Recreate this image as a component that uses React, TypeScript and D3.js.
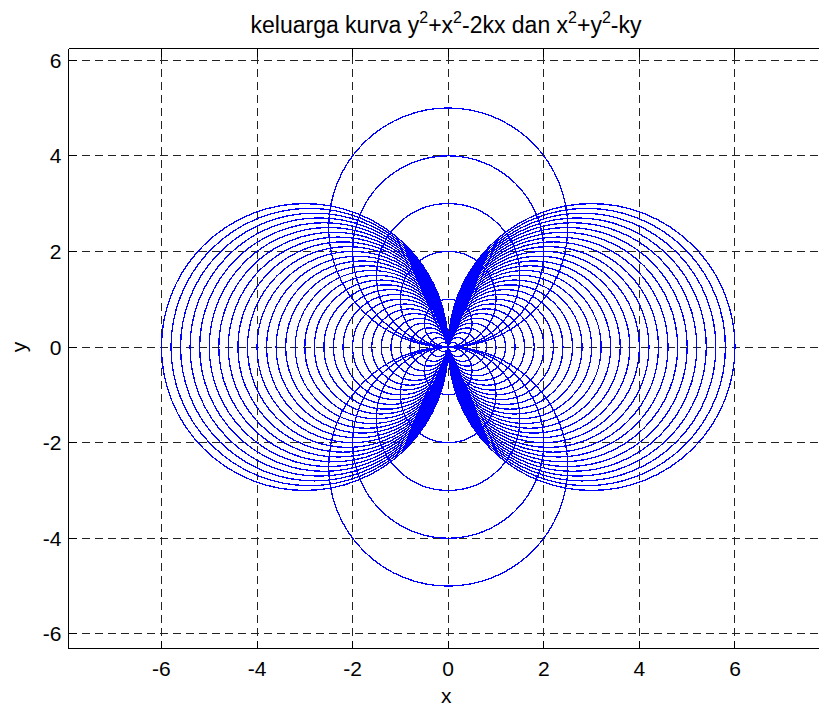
import { useEffect, useRef } from 'react'
import * as d3 from 'd3'

// family 1: y^2 + x^2 - 2kx = 0  -> circle centre (k, 0), radius |k|
const kHoriz = [
  -3.0, -2.9, -2.8, -2.7, -2.6, -2.5, -2.4, -2.3, -2.2, -2.1,
  -2.0, -1.9, -1.8, -1.7, -1.6, -1.5, -1.4, -1.3, -1.2, -1.1,
  -1.0, -0.9, -0.8, -0.7, -0.6, -0.5, -0.4, -0.3, -0.2, -0.1,
  0.1, 0.2, 0.3, 0.4, 0.5, 0.6, 0.7, 0.8, 0.9, 1.0,
  1.1, 1.2, 1.3, 1.4, 1.5, 1.6, 1.7, 1.8, 1.9, 2.0,
  2.1, 2.2, 2.3, 2.4, 2.5, 2.6, 2.7, 2.8, 2.9, 3.0,
]
// family 2: x^2 + y^2 - ky = 0  -> circle centre (0, k/2), radius |k|/2
const kVert = [-5, -4, -3, -2, -1, 1, 2, 3, 4, 5]

const xTicks = [-6, -4, -2, 0, 2, 4, 6]
const yTicks = [-6, -4, -2, 0, 2, 4, 6]
const xDomain = [-7.944, 7.944]
const yDomain = [-6.31, 6.24]

const FONT = '"Liberation Sans", Arial, Helvetica, sans-serif'

export default function App() {
  const svgRef = useRef<SVGSVGElement | null>(null)

  useEffect(() => {
    if (!svgRef.current) return
    const W = 819, H = 706
    const left = 68.5, right = 827.9, top = 48.7, bottom = 648.7

    const x = d3.scaleLinear().domain(xDomain).range([left, right])
    const y = d3.scaleLinear().domain(yDomain).range([bottom, top])

    const svg = d3.select(svgRef.current)
    svg.selectAll('*').remove()
    svg.attr('width', W).attr('height', H)

    svg.append('rect').attr('width', W).attr('height', H).attr('fill', '#fff')

    // grid
    const grid = svg.append('g').attr('stroke', '#222').attr('stroke-width', 1)
      .attr('stroke-dasharray', '8 5').attr('shape-rendering', 'crispEdges')
    xTicks.forEach(t => {
      grid.append('line').attr('x1', x(t)).attr('x2', x(t)).attr('y1', bottom).attr('y2', top)
    })
    yTicks.forEach(t => {
      grid.append('line').attr('x1', left).attr('x2', right).attr('y1', y(t)).attr('y2', y(t))
    })

    // curves
    const curves = svg.append('g').attr('fill', 'none').attr('stroke', '#0000ff')
      .attr('stroke-width', 1.3).attr('shape-rendering', 'crispEdges')
    kHoriz.forEach(k => {
      curves.append('ellipse')
        .attr('cx', x(k)).attr('cy', y(0))
        .attr('rx', x(Math.abs(k)) - x(0)).attr('ry', y(0) - y(Math.abs(k)))
    })
    kVert.forEach(k => {
      curves.append('ellipse')
        .attr('cx', x(0)).attr('cy', y(k / 2))
        .attr('rx', x(Math.abs(k) / 2) - x(0)).attr('ry', y(0) - y(Math.abs(k) / 2))
    })

    // box + inward ticks
    const axes = svg.append('g').attr('stroke', '#000').attr('stroke-width', 1)
      .attr('shape-rendering', 'crispEdges')
    axes.append('line').attr('x1', left).attr('x2', right).attr('y1', top).attr('y2', top)
    axes.append('line').attr('x1', left).attr('x2', right).attr('y1', bottom).attr('y2', bottom)
    axes.append('line').attr('x1', left).attr('x2', left).attr('y1', top).attr('y2', bottom)
    axes.append('line').attr('x1', right).attr('x2', right).attr('y1', top).attr('y2', bottom)
    const tl = 8
    xTicks.forEach(t => {
      axes.append('line').attr('x1', x(t)).attr('x2', x(t)).attr('y1', bottom).attr('y2', bottom - tl)
      axes.append('line').attr('x1', x(t)).attr('x2', x(t)).attr('y1', top).attr('y2', top + tl)
    })
    yTicks.forEach(t => {
      axes.append('line').attr('x1', left).attr('x2', left + tl).attr('y1', y(t)).attr('y2', y(t))
      axes.append('line').attr('x1', right).attr('x2', right - tl).attr('y1', y(t)).attr('y2', y(t))
    })

    // tick labels
    const labels = svg.append('g').attr('font-family', FONT).attr('font-size', 21).attr('fill', '#000')
    xTicks.forEach(t => {
      labels.append('text').attr('x', x(t)).attr('y', bottom + 27)
        .attr('text-anchor', 'middle').text(String(t))
    })
    yTicks.forEach(t => {
      labels.append('text').attr('x', left - 7).attr('y', y(t) + 7.5)
        .attr('text-anchor', 'end').text(String(t))
    })

    // axis labels
    labels.append('text').attr('x', x(0) - 2).attr('y', 703)
      .attr('text-anchor', 'middle').text('x')
    labels.append('text').attr('transform', `translate(26,${y(0)}) rotate(-90)`)
      .attr('text-anchor', 'middle').text('y')

    // title
    const title = svg.append('text').attr('x', 446).attr('y', 33.3)
      .attr('text-anchor', 'middle').attr('font-family', FONT).attr('font-size', 23).attr('fill', '#000')
    const parts: [string, boolean][] = [
      ['keluarga kurva y', false], ['2', true], ['+x', false], ['2', true],
      ['-2kx dan x', false], ['2', true], ['+y', false], ['2', true], ['-ky', false],
    ]
    parts.forEach(([s, sup]) => {
      title.append('tspan')
        .attr('font-size', sup ? 16 : 23)
        .attr('dy', sup ? -10 : 10)
        .text(s)
    })
    title.select('tspan').attr('dy', 0)
  }, [])

  return (
    <svg ref={svgRef} style={{ position: 'absolute', left: 0, top: 0, display: 'block' }} />
  )
}
